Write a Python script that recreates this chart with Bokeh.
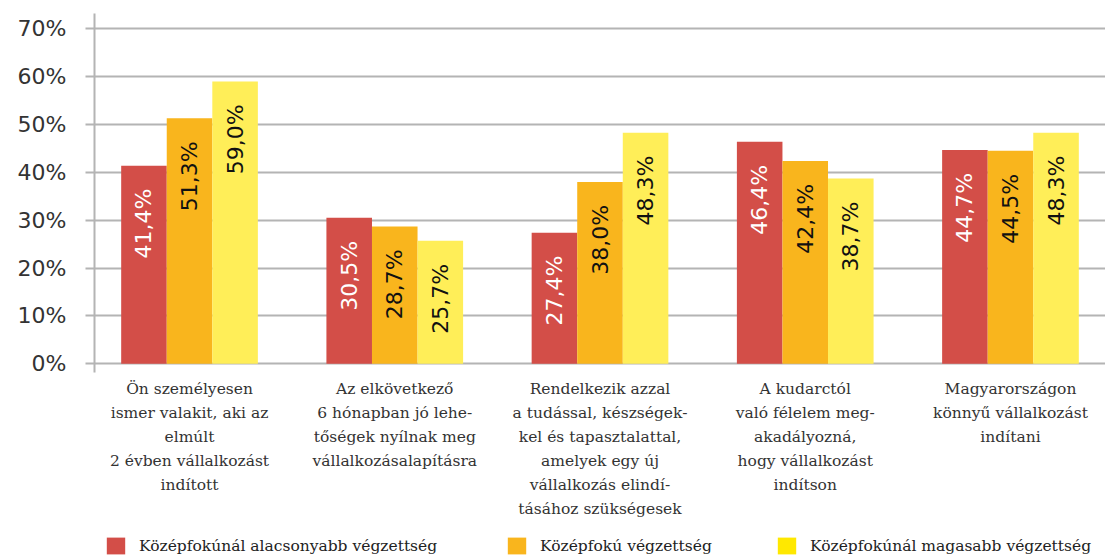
from bokeh.plotting import figure
from bokeh.models import (ColumnDataSource, Range1d, FixedTicker, PrintfTickFormatter,
                          Legend, LegendItem)
from bokeh.core.properties import value
from bokeh.embed import file_html
from bokeh.resources import INLINE
import math

# ---------------- data ----------------
categories = [
    ["Ön személyesen", "ismer valakit, aki az", "elmúlt", "2 évben vállalkozást", "indított"],
    ["Az elkövetkező", "6 hónapban jó lehe-", "tőségek nyílnak meg", "vállalkozásalapításra"],
    ["Rendelkezik azzal", "a tudással, készségek-", "kel és tapasztalattal,", "amelyek egy új",
     "vállalkozás elindí-", "tásához szükségesek"],
    ["A kudarctól", "való félelem meg-", "akadályozná,", "hogy vállalkozást", "indítson"],
    ["Magyarországon", "könnyű vállalkozást", "indítani"],
]
series_names = ["Középfokúnál alacsonyabb végzettség", "Középfokú végzettség",
                "Középfokúnál magasabb végzettség"]
low_edu = [41.4, 30.5, 27.4, 46.4, 44.7]
mid_edu = [51.3, 28.7, 38.0, 42.4, 44.5]
high_edu = [59.0, 25.7, 48.3, 38.7, 48.3]
y_ticks = [0, 10, 20, 30, 40, 50, 60, 70]

# ---------------- styles ----------------
bar_colors = ["#D34E48", "#F9B51D", "#FFEE58"]
legend_colors = ["#D34E48", "#F9B51D", "#FFE800"]
label_colors = ["#FFFFFF", "#111111", "#111111"]
grid_color = "#B4B4B4"
text_color = "#333333"
sans = "DejaVu Sans"
serif = "DejaVu Serif"

p = figure(width=1105, height=556, output_backend="svg", toolbar_location=None,
           x_range=Range1d(-0.463, 4.463), y_range=Range1d(-40.26, 73.2),
           x_axis_location=None, min_border_left=94, min_border_right=0,
           min_border_top=13, min_border_bottom=0)
p.outline_line_color = None
p.background_fill_color = "white"
p.border_fill_color = "white"
p.xgrid.visible = False

yax = p.yaxis[0]
yax.ticker = FixedTicker(ticks=y_ticks)
yax.formatter = PrintfTickFormatter(format="%d%%")
yax.bounds = (-1.8, 73.2)
yax.axis_line_color = grid_color
yax.axis_line_width = 2
yax.major_tick_line_color = grid_color
yax.major_tick_line_width = 2
yax.major_tick_out = 9
yax.major_tick_in = 0
yax.minor_tick_line_color = None
yax.major_label_standoff = 19
yax.major_label_text_font = sans
yax.major_label_text_font_size = "22px"
yax.major_label_text_color = text_color
p.ygrid.ticker = FixedTicker(ticks=y_ticks)
p.ygrid.grid_line_color = grid_color
p.ygrid.grid_line_width = 2

bar_w = 0.222
offsets = [-bar_w, 0.0, bar_w]
all_series = [low_edu, mid_edu, high_edu]
for k, vals in enumerate(all_series):
    xs = [i + offsets[k] for i in range(len(vals))]
    src = ColumnDataSource(dict(
        x=xs, top=vals,
        label=[("%.1f" % v).replace(".", ",") + "%" for v in vals]))
    p.vbar(x="x", top="top", bottom=0, width=bar_w, source=src,
           fill_color=bar_colors[k], line_color=None)
    p.text(x="x", y="top", text="label", source=src, angle=math.pi / 2,
           text_align="right", text_baseline="middle", y_offset=23,
           text_font=value(sans), text_font_size="22px", text_color=label_colors[k])

# category labels below the bars
cx, cl, co = [], [], []
for i, lines in enumerate(categories):
    for j, line in enumerate(lines):
        cx.append(i)
        cl.append(line)
        co.append(25 + 24 * j)
csrc = ColumnDataSource(dict(x=cx, y=[0] * len(cx), text=cl, off=co))
p.text(x="x", y="y", text="text", y_offset="off", source=csrc, text_align="center",
       text_baseline="middle", text_font=value(serif), text_font_size="15.5px",
       text_color=text_color)

# legend: three separate entries
leg_x = [10, 411, 681]
for k in range(3):
    swatch = p.vbar(x=[0], top=[0], width=0, fill_color=legend_colors[k], line_color=None)
    leg = Legend(items=[LegendItem(label=series_names[k], renderers=[swatch])],
                 location=(leg_x[k], 0), orientation="horizontal",
                 glyph_width=23, glyph_height=21, label_standoff=12,
                 label_text_font=serif, label_text_font_size="15.5px",
                 label_text_color="#222222", padding=0, margin=0, spacing=0,
                 border_line_color=None, background_fill_alpha=0,
                 label_height=21)
    p.add_layout(leg, "center")

open("out.html", "w").write(file_html(p, INLINE))
